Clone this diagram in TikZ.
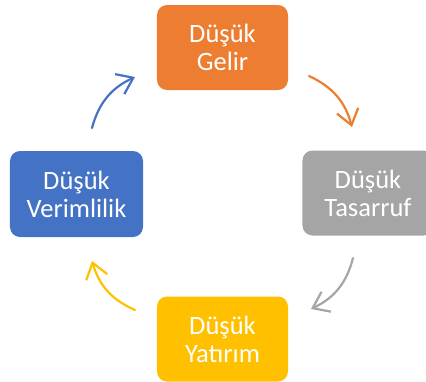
\documentclass[tikz,border=0pt]{standalone}
\usepackage{fontspec}
\setmainfont{Carlito}
\usetikzlibrary{arrows.meta}
\definecolor{cOrange}{HTML}{ED7D31}
\definecolor{cGray}{HTML}{A5A5A5}
\definecolor{cYellow}{HTML}{FFC000}
\definecolor{cBlue}{HTML}{4472C4}
\tikzset{
  box/.style={rounded corners=10bp, minimum width=131bp, minimum height=85bp,
    inner sep=0pt, text=white, align=center,
    font=\fontsize{26.5bp}{28bp}\selectfont},
  cyc/.style={line width=2.2bp, line cap=round, line join=round,
    -{Straight Barb[length=15bp, width=22bp, line width=2.2bp]}, bend left=25}
}
\begin{document}
\begin{tikzpicture}[x=1bp, y=-1bp]
\clip (0,0) rectangle (426,382);
\node[box, fill=cOrange] (gelir) at (222.5,47.5) {Düşük\\Gelir};
\node[box, fill=cGray] (tasarruf) at (368,193) {Düşük\\Tasarruf};
\node[box, fill=cYellow] (yatirim) at (222.5,339) {Düşük\\Yatırım};
\node[box, fill=cBlue, minimum width=133bp, minimum height=86bp] (verim) at (76.5,194) {Düşük\\Verimlilik};
\coordinate (o1) at (309,76);  \coordinate (o2) at (352,127);
\coordinate (g1) at (353,258); \coordinate (g2) at (311,309);
\coordinate (y1) at (135,310); \coordinate (y2) at (92,261);
\coordinate (b1) at (92,128);  \coordinate (b2) at (135,77);
\draw[cyc, cOrange] (o1) to (o2);
\draw[cyc, cGray] (g1) to (g2);
\draw[cyc, cYellow] (y1) to (y2);
\draw[cyc, cBlue] (b1) to (b2);
\end{tikzpicture}
\end{document}
